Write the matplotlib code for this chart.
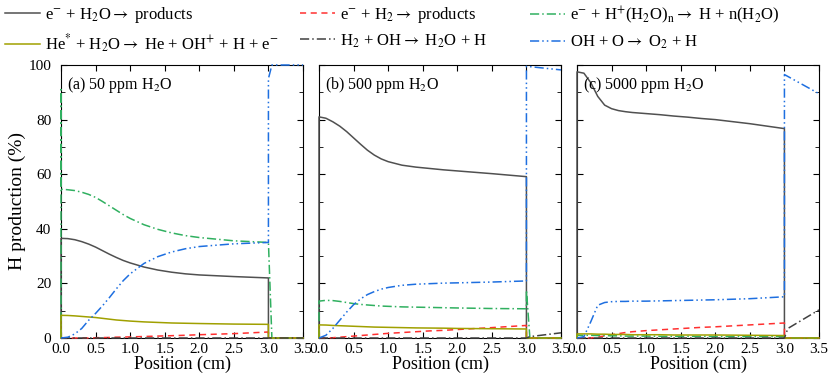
import matplotlib
matplotlib.use('Agg')
import matplotlib.pyplot as plt
from matplotlib.ticker import MultipleLocator

plt.rcParams['font.family'] = ['Liberation Serif', 'DejaVu Serif']
plt.rcParams['mathtext.fontset'] = 'stix'
plt.rcParams['font.size'] = 10

# positions (cm); 0.0 and 3.0 repeated to draw the vertical jumps
x = [0.0, 0.0, 0.0, 0.1, 0.2, 0.3, 0.4, 0.5, 0.6, 0.7, 0.8, 0.9, 1.0,
     1.2, 1.4, 1.6, 1.8, 2.0, 2.5, 3.0, 3.0, 3.05, 3.5]

# (a) 50 ppm
gray_a = [0, 36.5, 36.5, 36.4, 36.0, 35.3, 34.4, 33.3, 32.0, 30.7, 29.5, 28.4, 27.5,
          26.0, 24.9, 24.1, 23.5, 23.1, 22.5, 22.0, 0, 0, 0]
red_a = [0, 0, 0, 0, 0, 0, 0, 0.1, 0.15, 0.2, 0.3, 0.35, 0.4,
         0.55, 0.7, 0.85, 1.0, 1.2, 1.6, 2.2, 0, 0, 0]
green_a = [0, 91, 54.5, 54.3, 54.0, 53.4, 52.6, 51.5, 50.0, 48.4, 46.8, 45.2, 43.8,
           41.5, 39.8, 38.5, 37.5, 36.8, 35.6, 35.0, 35.0, 0, 0]
olive_a = [0, 8.3, 8.3, 8.25, 8.1, 7.9, 7.7, 7.5, 7.2, 6.9, 6.6, 6.4, 6.2,
           5.9, 5.7, 5.5, 5.4, 5.3, 5.1, 5.0, 0, 0, 0]
hoh_a = [0, 0, 0, 0, 0, 0, 0, 0, 0, 0, 0, 0, 0,
         0, 0, 0, 0, 0, 0, 0, 0, 0, 0]
blue_a = [0, 0, 0, 0.3, 1.5, 3.5, 6.5, 9.0, 11.8, 14.8, 18.0, 21.0, 23.5,
          27.3, 29.8, 31.5, 32.7, 33.5, 34.5, 35.0, 95.0, 100, 100]

# (b) 500 ppm
gray_b = [0, 81, 81, 80.5, 79.2, 77.6, 75.6, 73.3, 71.0, 68.8, 67.0, 65.6, 64.6,
          63.3, 62.6, 62.1, 61.6, 61.2, 60.2, 59.1, 0, 0, 0]
red_b = [0, 0, 0, 0, 0.1, 0.3, 0.5, 0.7, 0.9, 1.1, 1.3, 1.5, 1.7,
         2.0, 2.3, 2.6, 2.8, 3.1, 3.8, 4.6, 0, 0, 0]
green_b = [0, 13.5, 13.5, 13.8, 13.7, 13.4, 13.0, 12.6, 12.3, 12.1, 11.9, 11.7, 11.6,
           11.4, 11.3, 11.2, 11.1, 11.0, 10.8, 10.7, 17.5, 0, 0]
olive_b = [0, 4.8, 4.8, 4.75, 4.6, 4.5, 4.4, 4.3, 4.2, 4.1, 4.0, 3.95, 3.9,
           3.8, 3.7, 3.65, 3.6, 3.5, 3.4, 3.3, 0, 0, 0]
hoh_b = [0, 0, 0, 0, 0, 0, 0, 0, 0, 0, 0, 0, 0,
         0, 0, 0, 0, 0, 0, 0, 0, 0.5, 1.9]
blue_b = [0, 0, 0, 1.0, 3.5, 6.5, 9.5, 12.2, 14.3, 15.9, 17.0, 17.9, 18.5,
          19.3, 19.7, 19.9, 20.1, 20.2, 20.5, 20.9, 99.5, 99.4, 98.2]

# (c) 5000 ppm
gray_c = [0, 97.5, 97.5, 97.0, 93.5, 88.5, 85.3, 84.0, 83.3, 82.9, 82.6, 82.4, 82.2,
          81.8, 81.3, 80.9, 80.4, 80.0, 78.5, 76.7, 0, 0, 0]
red_c = [0, 0, 0, 0, 0, 0.3, 0.8, 1.2, 1.6, 2.0, 2.3, 2.5, 2.7,
         3.0, 3.3, 3.6, 3.9, 4.1, 4.8, 5.5, 0, 0, 0]
green_c = [0, 1.0, 1.0, 1.0, 1.0, 0.9, 0.9, 0.8, 0.8, 0.7, 0.7, 0.7, 0.7,
           0.6, 0.6, 0.6, 0.6, 0.5, 0.5, 0.5, 0, 0, 0]
olive_c = [0, 1.5, 1.5, 1.5, 1.5, 1.4, 1.4, 1.3, 1.3, 1.3, 1.2, 1.2, 1.2,
           1.2, 1.1, 1.1, 1.1, 1.1, 1.0, 0.9, 0, 0, 0]
hoh_c = [0, 0, 0, 0, 0, 0, 0, 0, 0, 0, 0, 0, 0,
         0, 0, 0, 0, 0, 0, 0, 0, 3.5, 10.3]
blue_c = [0, 0, 0, 0.5, 6.0, 12.0, 13.0, 13.3, 13.4, 13.4, 13.5, 13.5, 13.5,
          13.6, 13.7, 13.8, 13.9, 14.0, 14.4, 15.1, 96.5, 95.8, 89.5]

labels = [r'e$^{-}$ + H$_{2}$O$\rightarrow$ products',
          r'e$^{-}$ + H$_{2}$$\rightarrow$ products',
          r'e$^{-}$ + H$^{+}$(H$_{2}$O)$_{\rm n}$$\rightarrow$ H + n(H$_{2}$O)',
          r'He$^{*}$ + H$_{2}$O$\rightarrow$ He + OH$^{+}$ + H + e$^{-}$',
          r'H$_{2}$ + OH$\rightarrow$ H$_{2}$O + H',
          r'OH + O$\rightarrow$ O$_{2}$ + H']
colors = ['#505050', '#ff3030', '#30b060', '#a0a000', '#404040', '#1e6fe0']
styles = ['-', (0, (4, 3)), (0, (6, 2, 1, 2)), '-', (0, (6, 2, 1, 2)), (0, (6, 2, 1, 2, 1, 2))]

panels = [
    ('(a) 50 ppm H$_{2}$O', [gray_a, red_a, green_a, olive_a, hoh_a, blue_a]),
    ('(b) 500 ppm H$_{2}$O', [gray_b, red_b, green_b, olive_b, hoh_b, blue_b]),
    ('(c) 5000 ppm H$_{2}$O', [gray_c, red_c, green_c, olive_c, hoh_c, blue_c]),
]
lefts = [61, 319, 577]

fig = plt.figure(figsize=(8.3, 3.82), dpi=100)
handles = []
for i, (title, series) in enumerate(panels):
    ax = fig.add_axes([lefts[i] / 830, 44 / 382, 242 / 830, 273 / 382])
    for j, y in enumerate(series):
        ln, = ax.plot(x, y, color=colors[j], linestyle=styles[j], lw=1.1,
                      zorder=3, clip_on=False)
        if i == 0:
            handles.append(ln)
    ax.set_xlim(0, 3.5)
    ax.set_ylim(0, 100)
    ax.xaxis.set_major_locator(MultipleLocator(0.5))
    ax.yaxis.set_major_locator(MultipleLocator(20))
    ax.yaxis.set_minor_locator(MultipleLocator(10))
    ax.tick_params(which='both', direction='in', top=True, right=True, labelsize=11)
    ax.tick_params(which='major', length=4)
    ax.tick_params(which='minor', length=3)
    ax.tick_params(axis='y', pad=7)
    ax.set_xticklabels(['%.1f' % v for v in ax.get_xticks()])
    if i > 0:
        ax.set_yticklabels([])
    else:
        ax.set_ylabel('H production (%)', fontsize=14, labelpad=2)
    ax.set_xlabel('Position (cm)', fontsize=13, labelpad=0)
    ax.text(0.025, 0.965, title, transform=ax.transAxes, fontsize=11.5, va='top', ha='left')

colx = [3, 298, 528]
for k in range(3):
    fig.legend([handles[k], handles[k + 3]], [labels[k], labels[k + 3]],
               loc='upper left', bbox_to_anchor=(colx[k] / 830, 1 - 3 / 382),
               frameon=False, fontsize=12, handlelength=2.1, handletextpad=0.3,
               borderpad=0.1, borderaxespad=0, labelspacing=0.45)

plt.savefig('out.png')
